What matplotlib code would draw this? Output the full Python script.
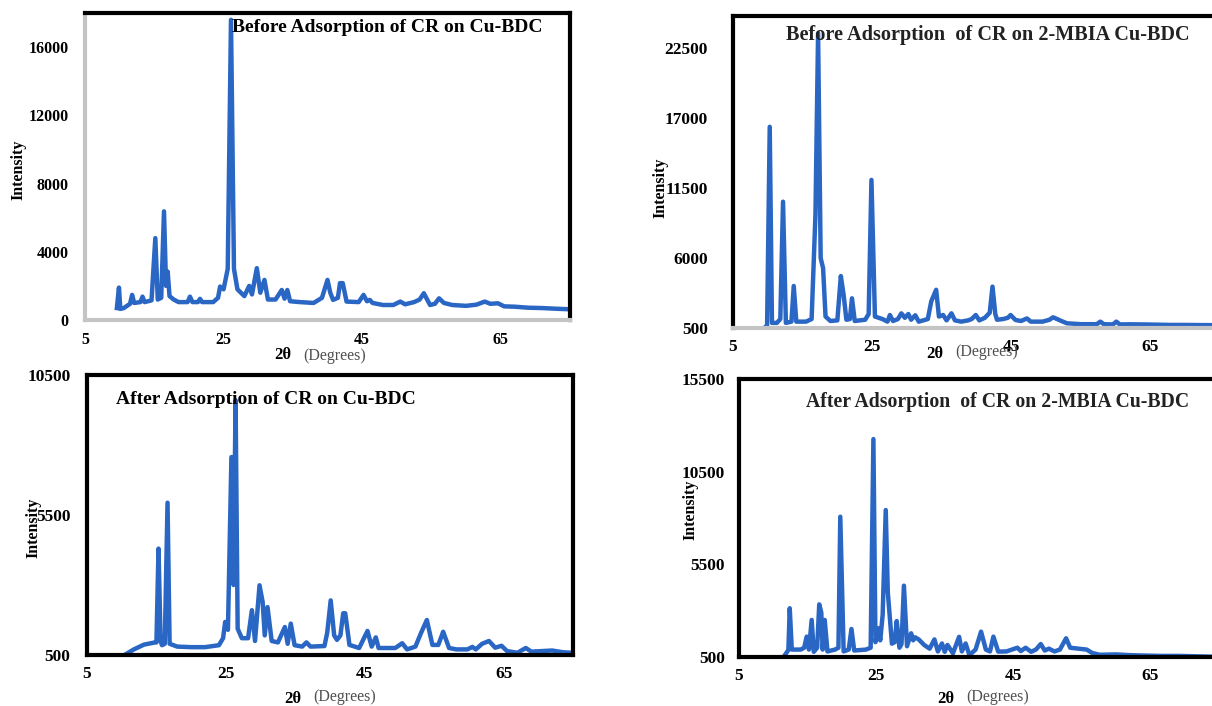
import matplotlib
matplotlib.use("Agg")
import matplotlib.pyplot as plt

plt.rcParams['font.family'] = ['Liberation Serif', 'DejaVu Serif']

# XRD patterns, 2-theta (degrees) vs intensity (counts)
cubdc_before_2t = [9.6, 9.9, 10.1, 10.6, 11.5, 11.8, 12.1, 13.0, 13.3, 13.6, 14.6, 15.15, 15.5, 16.0,
                   16.4, 16.7, 16.93, 17.2, 17.8, 18.5, 19.8, 20.15, 20.5, 21.3, 21.6, 21.9, 23.5,
                   24.2, 24.5, 25.0, 25.6, 26.07, 26.5, 27.0, 28.0, 28.7, 29.1, 29.8, 30.3, 30.9,
                   31.4, 32.5, 33.4, 33.8, 34.2, 34.6, 36.0, 38.0, 39.2, 40.0, 40.4, 40.8, 41.5,
                   41.8, 42.2, 42.75, 44.5, 45.2, 45.7, 46.1, 46.5, 48.0, 49.5, 50.5, 51.2, 52.5,
                   53.3, 53.9, 54.8, 55.5, 56.1, 56.8, 58.0, 60.0, 61.5, 62.7, 63.5, 64.6, 65.5,
                   67.0, 69.0, 71.0, 73.0, 74.9]
cubdc_before_int = [700, 1900, 650, 700, 950, 1470, 1000, 1050, 1370, 1050, 1150, 4800, 1200, 1300,
                    6370, 2000, 2840, 1400, 1200, 1050, 1050, 1370, 1050, 1050, 1240, 1050, 1050,
                    1300, 1960, 1800, 3000, 17600, 3000, 1800, 1400, 2000, 1500, 3040, 1600, 2350,
                    1200, 1200, 1760, 1250, 1760, 1100, 1050, 1000, 1300, 2350, 1600, 1180, 1300,
                    2160, 2160, 1080, 1050, 1470, 1100, 1180, 1000, 880, 880, 1080, 920, 1050,
                    1200, 1570, 880, 950, 1270, 1000, 880, 830, 900, 1080, 950, 980, 800,
                    780, 720, 700, 660, 630]

mbia_before_2t = [9.7, 9.9, 10.28, 10.6, 11.3, 11.8, 12.19, 12.6, 13.4, 13.73, 14.1, 15.5, 16.3,
                  16.85, 17.23, 17.6, 17.95, 18.3, 19.0, 20.0, 20.5, 20.9, 21.3, 21.8, 22.1, 22.5,
                  24.0, 24.5, 24.9, 25.4, 26.5, 27.2, 27.55, 28.0, 28.7, 29.2, 29.7, 30.2, 30.6,
                  31.2, 31.7, 33.0, 33.5, 34.2, 34.6, 35.2, 35.7, 36.4, 36.9, 37.8, 38.8, 39.3,
                  39.9, 40.4, 41.2, 41.9, 42.3, 42.7, 42.95, 43.8, 44.5, 44.9, 45.6, 46.4, 47.25,
                  47.8, 49.5, 50.5, 51.0, 51.6, 52.2, 53.0, 55.0, 57.3, 57.8, 58.3, 59.6, 60.1,
                  60.6, 62.0, 64.0, 66.0, 68.0, 70.0, 72.0, 75.0]
mbia_before_int = [600, 700, 16300, 900, 900, 1200, 10420, 900, 1000, 3800, 1000, 1000, 1200,
                   9380, 23650, 6000, 5190, 1400, 1050, 1100, 4580, 3100, 1150, 1200, 2830, 1050,
                   1150, 1600, 12130, 1400, 1200, 1000, 1520, 1050, 1200, 1650, 1300, 1600, 1150,
                   1500, 1000, 1200, 2600, 3500, 1400, 1520, 1100, 1650, 1100, 1000, 1100, 1200,
                   1520, 1100, 1300, 1700, 3750, 1600, 1150, 1200, 1300, 1520, 1130, 1050, 1250,
                   1000, 1000, 1150, 1340, 1200, 1050, 870, 800, 800, 1000, 800, 780, 1000,
                   780, 790, 780, 760, 740, 740, 730, 720]

cubdc_after_2t = [10.4, 11.75, 13.2, 14.6, 15.0, 15.3, 15.6, 15.8, 16.2, 16.6, 16.9, 18.0, 20.0,
                  22.0, 24.0, 24.6, 24.9, 25.3, 25.8, 26.1, 26.4, 26.7, 27.3, 28.2, 28.75, 29.2,
                  29.85, 30.3, 30.6, 31.0, 31.6, 32.5, 33.5, 33.9, 34.35, 34.9, 36.0, 36.6, 37.2,
                  39.2, 39.6, 40.1, 40.6, 41.0, 41.5, 41.9, 42.2, 42.8, 44.2, 45.4, 46.0, 46.6,
                  47.0, 48.2, 49.4, 50.4, 51.1, 52.3, 53.1, 53.95, 54.75, 55.6, 56.3, 57.15, 58.2,
                  59.8, 60.5, 61.0, 61.9, 62.9, 63.8, 64.7, 65.5, 67.0, 68.2, 69.0, 70.5, 72.0,
                  73.5, 74.8]
cubdc_after_int = [500, 700, 870, 940, 950, 4300, 1000, 850, 900, 5940, 900, 800, 780,
                   780, 850, 1100, 1680, 1400, 7570, 3000, 9600, 1440, 1100, 1100, 2100, 1000,
                   2990, 2390, 1200, 2210, 1000, 950, 1500, 900, 1620, 850, 800, 950, 800,
                   820, 1300, 2450, 1200, 1040, 1200, 1990, 1990, 860, 750, 1360, 800, 1130,
                   750, 750, 750, 920, 700, 800, 1280, 1750, 860, 860, 1330, 750, 700,
                   700, 790, 700, 900, 1000, 760, 830, 640, 580, 750, 620, 640, 660,
                   600, 580]

mbia_after_2t = [11.5, 12.2, 12.4, 12.7, 14.0, 14.5, 14.87, 15.2, 15.6, 15.9, 16.4, 16.7, 17.0,
                 17.2, 17.5, 17.9, 19.0, 19.5, 19.77, 20.26, 21.0, 21.4, 21.8, 23.5, 24.2, 24.6,
                 24.9, 25.3, 25.6, 25.95, 26.4, 26.7, 27.3, 27.7, 28.0, 28.4, 28.7, 29.05, 29.5,
                 30.1, 30.4, 30.7, 31.2, 32.0, 32.8, 33.5, 34.0, 34.6, 35.0, 35.4, 36.2, 37.1,
                 37.5, 38.05, 38.6, 39.5, 40.3, 41.0, 41.6, 42.1, 42.8, 44.0, 45.6, 46.1, 46.8,
                 47.6, 48.3, 49.0, 49.6, 50.2, 51.0, 51.8, 52.7, 53.3, 54.5, 55.7, 56.5, 57.6,
                 60.0, 62.0, 64.0, 66.5, 69.0, 71.5, 73.7, 75.0]
mbia_after_int = [500, 880, 3130, 900, 900, 1000, 1600, 900, 2500, 780, 1000, 3340, 2900,
                  900, 2500, 800, 900, 1000, 8070, 800, 900, 2010, 850, 900, 1000, 12260,
                  1300, 2050, 1400, 2770, 8430, 4000, 1220, 1300, 2440, 1000, 1200, 4350, 1080,
                  1780, 1400, 1560, 1450, 1150, 950, 1450, 800, 1230, 780, 1150, 700, 1590,
                  800, 1230, 600, 900, 1870, 900, 800, 1600, 790, 800, 1000, 820, 1000,
                  780, 900, 1200, 850, 950, 800, 900, 1510, 1000, 950, 900, 720, 620,
                  640, 600, 580, 560, 560, 540, 520, 510]

blue = '#2a66c4'
grey = '#c4c4c4'
W, H = 1212, 706


def box(l, t, r, b):
    # pixel box -> figure fraction rect
    return [l / W, 1 - b / H, (r - l) / W, (b - t) / H]


def panel(rect, x, y, ylim, yticks, spine_cols, fs, ypad, xpad):
    ax = fig.add_axes(rect)
    ax.plot(x, y, color=blue, lw=3.2, solid_joinstyle='round')
    ax.set_xlim(5, 75)
    ax.set_ylim(*ylim)
    ax.set_xticks([5, 25, 45, 65])
    ax.set_yticks(yticks)
    ax.tick_params(length=0, labelsize=fs)
    ax.tick_params(axis='y', pad=ypad)
    ax.tick_params(axis='x', pad=xpad)
    for lab in ax.get_xticklabels() + ax.get_yticklabels():
        lab.set_fontweight('bold')
    for side, col in spine_cols.items():
        ax.spines[side].set_color(col)
        ax.spines[side].set_linewidth(3)
    return ax


def ptext(px, py, s, **kw):
    fig.text(px / W, 1 - py / H, s, **kw)


fig = plt.figure(figsize=(12.12, 7.06), dpi=100)

panel(box(85, 13, 570, 320), cubdc_before_2t, cubdc_before_int, (0, 18000),
      [0, 4000, 8000, 12000, 16000],
      {'top': 'black', 'right': 'black', 'left': grey, 'bottom': grey}, 11.5, 12, 9)
panel(box(733, 16, 1220, 328), mbia_before_2t, mbia_before_int, (500, 25000),
      [500, 6000, 11500, 17000, 22500],
      {'top': 'black', 'right': 'black', 'left': 'black', 'bottom': grey}, 12.5, 18, 8)
panel(box(87, 375, 573, 655), cubdc_after_2t, cubdc_after_int, (500, 10500),
      [500, 5500, 10500],
      {'top': 'black', 'right': 'black', 'left': 'black', 'bottom': 'black'}, 12.5, 12, 8)
panel(box(739, 379, 1219, 657), mbia_after_2t, mbia_after_int, (500, 15500),
      [500, 5500, 10500, 15500],
      {'top': 'black', 'right': 'black', 'left': 'black', 'bottom': 'black'}, 12.5, 10, 8)

# panel titles
ptext(232, 27, 'Before Adsorption of CR on Cu-BDC', fontsize=14, fontweight='bold',
      va='center', ha='left')
ptext(786, 35, 'Before Adsorption  of CR on 2-MBIA Cu-BDC', fontsize=14.6, fontweight='bold',
      va='center', ha='left', color='#222222')
ptext(116, 399, 'After Adsorption of CR on Cu-BDC', fontsize=14, fontweight='bold',
      va='center', ha='left')
ptext(806, 402, 'After Adsorption  of CR on 2-MBIA Cu-BDC', fontsize=14.2, fontweight='bold',
      va='center', ha='left', color='#222222')

# y labels
for px, py in [(18, 170), (660, 188), (33, 528), (690, 510)]:
    ptext(px, py, 'Intensity', fontsize=11.5, fontweight='bold', rotation=90,
          va='center', ha='center')

# x labels: bold 2θ followed by smaller "(Degrees)"
for px, py, dy in [(283, 355, 1), (935, 354, -2), (293, 699, -2), (946, 699, -2)]:
    ptext(px, py, '2θ', fontsize=12, fontweight='bold', va='center', ha='center')
    ptext(px + 20, py + dy, '(Degrees)', fontsize=11.5, va='center', ha='left', color='#505050')

fig.savefig('out.png', dpi=100)
